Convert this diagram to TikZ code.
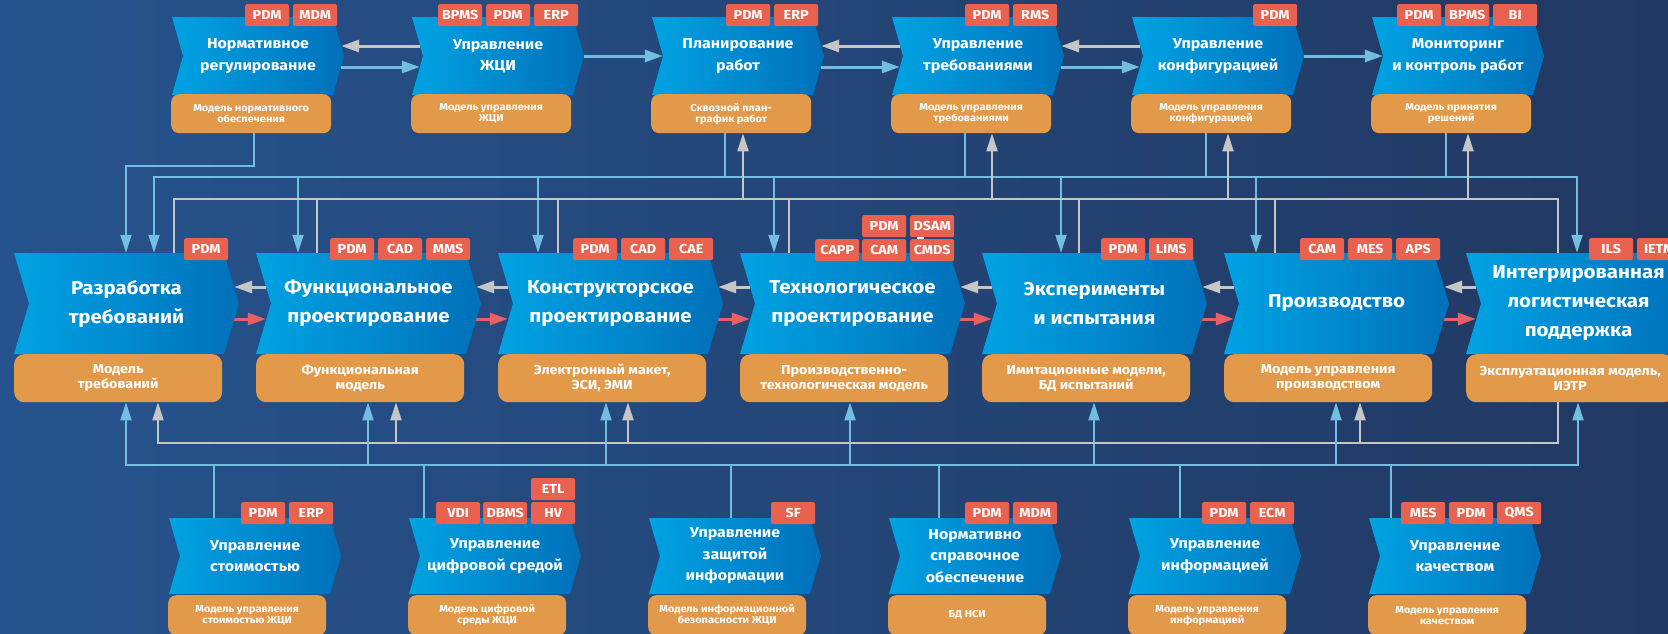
\documentclass[tikz,border=0pt]{standalone}
\usepackage{fontspec}
\setmainfont{Fira Sans}[FakeStretch=1.1]
\usetikzlibrary{arrows.meta,calc}
\pgfdeclarelayer{bg}\pgfdeclarelayer{conn}
\pgfsetlayers{bg,conn,main}
\definecolor{bgL}{HTML}{26538D}
\definecolor{bgR}{HTML}{213862}
\definecolor{chL}{HTML}{00A3E3}
\definecolor{chR}{HTML}{0070BA}
\definecolor{org}{HTML}{E3994A}
\definecolor{tagc}{HTML}{E8624F}
\definecolor{lnb}{HTML}{72BDE0}
\definecolor{lng}{HTML}{C6C6C6}
\definecolor{lnr}{HTML}{EA5F66}
\tikzset{
 chevfill/.style={left color=chL,right color=chR,draw=none},
 ttl/.style={text=white,align=center,inner sep=0pt,font=\bfseries\fontsize{14.5}{21.5}\selectfont},
 ttlbig/.style={ttl,font=\bfseries\fontsize{18.6}{29}\selectfont},
 obox/.style={fill=org,rounded corners=8pt,text=white,align=center,inner sep=0pt,anchor=north west,font=\bfseries\fontsize{10}{11}\selectfont},
 oboxbig/.style={obox,rounded corners=10pt,font=\bfseries\fontsize{13}{15}\selectfont},
 tagbox/.style={fill=tagc,text=white,minimum width=44pt,minimum height=22pt,inner sep=0pt,anchor=north west,rounded corners=1.5pt,font=\bfseries\fontsize{13}{13}\selectfont},
 bl/.style={draw=lnb,line width=2pt},
 gl/.style={draw=lng,line width=2pt},
 arr/.style={-{Triangle[length=18pt,width=11pt]}},
 arrs/.style={{Triangle[length=18pt,width=11pt]}-{Triangle[length=18pt,width=11pt]}},
 harr/.style={line width=3pt,-{Triangle[length=18pt,width=12pt]}},
}
% #1 style, #2 name, #3 L, #4 T, #5 W, #6 H, #7 d, #8 text
\newcommand\chev[8]{%
 \path[chevfill] (#3,#4) -- ++(#5,0) -- ++(#7,#6/2) -- ++(-#7,#6/2) -- ++(-#5,0) -- ++(#7,-#6/2) -- cycle;
 \node[#1,minimum width=#5+#7,minimum height=#6] (#2) at ({#3+(#5+#7)/2},{#4+#6/2}) {#8};
}
\begin{document}
\begin{tikzpicture}[x=1pt,y=-1pt]
\useasboundingbox (0,0) rectangle (1668,633);
\begin{pgfonlayer}{bg}
\shade[left color=bgL,right color=bgR] (0,0) rectangle (1668,633);
\end{pgfonlayer}
\clip (0,0) rectangle (1668,633);

% ---------- top row ----------
\chev{ttl}{t1}{172}{17}{161}{78}{11}{Нормативное\\регулирование}
\chev{ttl}{t2}{412}{17}{161}{78}{11}{Управление\\ЖЦИ}
\chev{ttl}{t3}{652}{17}{161}{78}{11}{Планирование\\работ}
\chev{ttl}{t4}{892}{17}{161}{78}{11}{Управление\\требованиями}
\chev{ttl}{t5}{1132}{17}{161}{78}{11}{Управление\\конфигурацией}
\chev{ttl}{t6}{1372}{17}{161}{78}{11}{Мониторинг\\и контроль работ}
\node[obox,minimum width=160,minimum height=39] (to1) at (171,94) {Модель нормативного\\обеспечения};
\node[obox,minimum width=160,minimum height=39] (to2) at (411,94) {Модель управления\\ЖЦИ};
\node[obox,minimum width=160,minimum height=39] (to3) at (651,94) {Сквозной план-\\график работ};
\node[obox,minimum width=160,minimum height=39] (to4) at (891,94) {Модель управления\\требованиями};
\node[obox,minimum width=160,minimum height=39] (to5) at (1131,94) {Модель управления\\конфигурацией};
\node[obox,minimum width=160,minimum height=39] (to6) at (1371,94) {Модель принятия\\решений};
\node[tagbox] (g1a) at (245,4) {PDM};
\node[tagbox] (g1b) at (293,4) {MDM};
\node[tagbox] (g2a) at (438,4) {BPMS};
\node[tagbox] (g2b) at (486,4) {PDM};
\node[tagbox] (g2c) at (534,4) {ERP};
\node[tagbox] (g3a) at (726,4) {PDM};
\node[tagbox] (g3b) at (774,4) {ERP};
\node[tagbox] (g4a) at (965,4) {PDM};
\node[tagbox] (g4b) at (1013,4) {RMS};
\node[tagbox] (g5a) at (1253,4) {PDM};
\node[tagbox] (g6a) at (1397,4) {PDM};
\node[tagbox] (g6b) at (1445,4) {BPMS};
\node[tagbox] (g6c) at (1493,4) {BI};

% ---------- middle row ----------
\chev{ttlbig}{r1}{14}{253}{210}{101}{15}{Разработка\\требований}
\chev{ttlbig}{r2}{256}{253}{210}{101}{15}{Функциональное\\проектирование}
\chev{ttlbig}{r3}{498}{253}{210}{101}{15}{Конструкторское\\проектирование}
\chev{ttlbig}{r4}{740}{253}{210}{101}{15}{Технологическое\\проектирование}
\chev{ttlbig}{r5}{982}{253}{210}{101}{15}{Эксперименты\\и испытания}
\chev{ttlbig}{r6}{1224}{253}{210}{101}{15}{Производство}
\chev{ttlbig}{r7}{1466}{253}{210}{101}{15}{Интегрированная\\логистическая\\поддержка}
\node[oboxbig,minimum width=208,minimum height=48] (mo1) at (14,354) {Модель\\требований};
\node[oboxbig,minimum width=208,minimum height=48] (mo2) at (256,354) {Функциональная\\модель};
\node[oboxbig,minimum width=208,minimum height=48] (mo3) at (498,354) {Электронный макет,\\ЭСИ, ЭМИ};
\node[oboxbig,minimum width=208,minimum height=48] (mo4) at (740,354) {Производственно-\\технологическая модель};
\node[oboxbig,minimum width=208,minimum height=48] (mo5) at (982,354) {Имитационные модели,\\БД испытаний};
\node[oboxbig,minimum width=208,minimum height=48] (mo6) at (1224,354) {Модель управления\\производством};
\node[oboxbig,minimum width=208,minimum height=48] (mo7) at (1466,354) {Эксплуатационная модель,\\ИЭТР};
\node[tagbox] (m1a) at (184,238) {PDM};
\node[tagbox] (m2a) at (330,238) {PDM};
\node[tagbox] (m2b) at (378,238) {CAD};
\node[tagbox] (m2c) at (426,238) {MMS};
\node[tagbox] (m3a) at (573,238) {PDM};
\node[tagbox] (m3b) at (621,238) {CAD};
\node[tagbox] (m3c) at (669,238) {CAE};
\node[tagbox] (m4a) at (815,239) {CAPP};
\node[tagbox] (m4b) at (862,239) {CAM};
\node[tagbox] (m4c) at (910,239) {CMDS};
\node[tagbox] (m4d) at (862,215) {PDM};
\node[tagbox] (m4e) at (910,215) {DSAM};
\fill[white] (917,236.6) rectangle (924,238.6);
\node[tagbox] (m5a) at (1101,238) {PDM};
\node[tagbox] (m5b) at (1149,238) {LIMS};
\node[tagbox] (m6a) at (1300,238) {CAM};
\node[tagbox] (m6b) at (1348,238) {MES};
\node[tagbox] (m6c) at (1396,238) {APS};
\node[tagbox] (m7a) at (1589,238) {ILS};
\node[tagbox] (m7b) at (1637,238) {IETM};

% ---------- bottom row ----------
\chev{ttl}{b1}{169}{518}{161}{76}{11}{Управление\\стоимостью}
\chev{ttl}{b2}{409}{518}{161}{76}{11}{Управление\\цифровой средой}
\chev{ttl}{b3}{649}{518}{161}{76}{11}{Управление\\защитой\\информации}
\chev{ttl}{b4}{889}{518}{161}{76}{11}{Нормативно\\справочное\\обеспечение}
\chev{ttl}{b5}{1129}{518}{161}{76}{11}{Управление\\информацией}
\chev{ttl}{b6}{1369}{518}{161}{76}{11}{Управление\\качеством}
\node[obox,minimum width=158,minimum height=40] (bo1) at (168,595) {Модель управления\\стоимостью ЖЦИ};
\node[obox,minimum width=158,minimum height=40] (bo2) at (408,595) {Модель цифровой\\среды ЖЦИ};
\node[obox,minimum width=158,minimum height=40] (bo3) at (648,595) {Модель информационной\\безопасности ЖЦИ};
\node[obox,minimum width=158,minimum height=40] (bo4) at (888,595) {БД НСИ};
\node[obox,minimum width=158,minimum height=40] (bo5) at (1128,595) {Модель управления\\информацией};
\node[obox,minimum width=158,minimum height=40] (bo6) at (1368,595) {Модель управления\\качеством};
\node[tagbox] (n1a) at (241,502) {PDM};
\node[tagbox] (n1b) at (289,502) {ERP};
\node[tagbox] (n2a) at (436,502) {VDI};
\node[tagbox] (n2b) at (483,502) {DBMS};
\node[tagbox] (n2c) at (531,502) {HV};
\node[tagbox] (n2d) at (531,478) {ETL};
\node[tagbox] (n3a) at (771,502) {SF};
\node[tagbox] (n4a) at (965,502) {PDM};
\node[tagbox] (n4b) at (1013,502) {MDM};
\node[tagbox] (n5a) at (1202,502) {PDM};
\node[tagbox] (n5b) at (1250,502) {ECM};
\node[tagbox] (n6a) at (1401,502) {MES};
\node[tagbox] (n6b) at (1449,502) {PDM};
\node[tagbox] (n6c) at (1497,502) {QMS};

% ---------- connectors ----------
\begin{pgfonlayer}{conn}
% top row horizontal
\draw[lng,harr] ($(t2.west |- 0,46)+(8,0)$) -- ($(t1.east |- 0,46)+(-3,0)$);
\draw[lnb,harr] ($(t1.east |- 0,67)+(-3,0)$) -- ($(t2.west |- 0,67)+(8,0)$);
\draw[lnb,harr] (t2.east |- 0,56) -- ($(t3.west |- 0,56)+(11,0)$);
\draw[lng,harr] ($(t4.west |- 0,46)+(8,0)$) -- ($(t3.east |- 0,46)+(-3,0)$);
\draw[lnb,harr] ($(t3.east |- 0,67)+(-3,0)$) -- ($(t4.west |- 0,67)+(8,0)$);
\draw[lng,harr] ($(t5.west |- 0,46)+(8,0)$) -- ($(t4.east |- 0,46)+(-3,0)$);
\draw[lnb,harr] ($(t4.east |- 0,67)+(-3,0)$) -- ($(t5.west |- 0,67)+(8,0)$);
\draw[lnb,harr] (t5.east |- 0,56) -- ($(t6.west |- 0,56)+(11,0)$);
% middle row horizontal
\foreach \a/\b in {r1/r2,r2/r3,r3/r4,r4/r5,r5/r6,r6/r7}{
 \draw[lng,harr] ($(\b.west |- 0,287)+(10,0)$) -- ($(\a.east |- 0,287)+(-5,0)$);
 \draw[lnr,harr] ($(\a.east |- 0,319)+(-5,0)$) -- ($(\b.west |- 0,319)+(10,0)$);
}
% upper blue
\draw[bl,arr] (254,0 |- to1.south) -- (254,166) -- (126,166) -- (126,0 |- r1.north);
\draw[bl,arrs] (154,0 |- r1.north) -- (154,177) -- (1577,177) -- (1577,0 |- r7.north);
\foreach \x/\n in {725/to3,965/to4,1206/to5,1446/to6}{
 \draw[bl] (\x,0 |- \n.south) -- (\x,177);}
\foreach \x/\n in {298/r2,538/r3,774/r4,1061/r5,1256/r6}{
 \draw[bl,arr] (\x,177) -- (\x,0 |- \n.north);}
% gray loop
\draw[gl,arr] (174,0 |- r1.north) -- (174,199) -- (1558,199) -- (1558,443) -- (158,443) -- (158,0 |- mo1.south);
\foreach \x/\n in {317/r2,558/r3,789/r4,1079/r5,1275/r6}{
 \draw[gl] (\x,0 |- \n.north) -- (\x,199);}
\foreach \x/\n in {743/to3,992/to4,1228/to5,1468/to6}{
 \draw[gl,arr] (\x,199) -- (\x,0 |- \n.south);}
\foreach \x/\n in {396/mo2,628/mo3,1360/mo6}{
 \draw[gl,arr] (\x,443) -- (\x,0 |- \n.south);}
% lower blue
\draw[bl,arrs] (126,0 |- mo1.south) -- (126,465) -- (1578,465) -- (1578,0 |- mo7.south);
\foreach \x/\n in {368/mo2,606/mo3,850/mo4,1094/mo5,1336/mo6}{
 \draw[bl,arr] (\x,465) -- (\x,0 |- \n.south);}
\foreach \x/\n in {214/b1,424/b2,731/b3,939/b4,1180/b5,1391/b6}{
 \draw[bl] (\x,465) -- (\x,0 |- \n.north);}
\end{pgfonlayer}
\end{tikzpicture}
\end{document}
